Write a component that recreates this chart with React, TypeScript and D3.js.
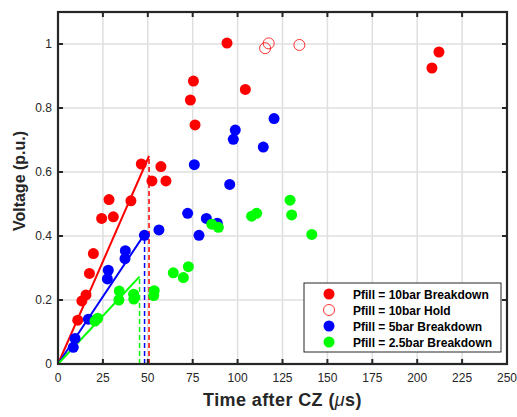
import React from "react";
import * as d3 from "d3";

// data (time in µs, voltage in p.u.)
const red10X = [11, 13.3, 15.6, 17.5, 19.7, 24.3, 28.4, 30.8, 40.6, 46.4, 52.3, 57.3, 60.1, 73.7, 75.4, 76.3, 94.1, 104.3, 208.2, 212.1];
const red10Y = [0.137, 0.197, 0.216, 0.283, 0.345, 0.455, 0.514, 0.46, 0.51, 0.625, 0.572, 0.617, 0.572, 0.825, 0.884, 0.747, 1.003, 0.858, 0.925, 0.975];

const hold10X = [115.3, 117.3, 134.4];
const hold10Y = [0.987, 1.002, 0.997];

const blue5X = [8.5, 9.5, 16.9, 27.5, 28, 37.3, 37.5, 48.1, 56.2, 72.2, 75.9, 78.5, 82.6, 88.7, 95.6, 97.6, 98.7, 114.3, 120.3];
const blue5Y = [0.052, 0.08, 0.14, 0.266, 0.293, 0.329, 0.354, 0.402, 0.419, 0.471, 0.623, 0.402, 0.455, 0.44, 0.561, 0.702, 0.731, 0.678, 0.767];

const green25X = [20.6, 22.1, 33.9, 34.1, 42.2, 42.1, 53.3, 53.6, 64.2, 69.8, 72.6, 85.6, 89.3, 107.8, 110.6, 129.2, 130.1, 141.3];
const green25Y = [0.134, 0.143, 0.2, 0.228, 0.203, 0.218, 0.214, 0.229, 0.285, 0.27, 0.304, 0.437, 0.427, 0.462, 0.471, 0.512, 0.466, 0.405];

// linear fits through origin: end point of each line
const fitNames = ["red", "blue", "green"];
const fitEndX = [50.7, 48.2, 45.4];
const fitEndY = [0.65, 0.406, 0.273];

const xTicks = [0, 25, 50, 75, 100, 125, 150, 175, 200, 225, 250];
const yTicks = [0, 0.2, 0.4, 0.6, 0.8, 1];
const legendLabels = [
  "Pfill = 10bar Breakdown",
  "Pfill = 10bar Hold",
  "Pfill = 5bar Breakdown",
  "Pfill = 2.5bar Breakdown",
];

const W = 517,
  H = 417;
const margin = { top: 12, right: 10, bottom: 53, left: 58 };
const colors: Record<string, string> = { red: "#ff0000", blue: "#0000ff", green: "#00ff00" };
const axisColor = "#262626";
const font = "'Liberation Sans', Arial, Helvetica, sans-serif";

const xScale = d3.scaleLinear().domain([0, 250]).range([margin.left, W - margin.right]);
const yScale = d3.scaleLinear().domain([0, 1.1]).range([H - margin.bottom, margin.top]);

const zip = (xs: number[], ys: number[]) => xs.map((x, i) => [x, ys[i]] as [number, number]);

export default function App() {
  const x0 = xScale(0),
    x1 = xScale(250),
    y0 = yScale(0),
    y1 = yScale(1.1);
  const r = 5.5;
  const line = d3
    .line<[number, number]>()
    .x((d) => xScale(d[0]))
    .y((d) => yScale(d[1]));

  const dots = (pts: [number, number][], fill: string, key: string) =>
    pts.map((d, i) => <circle key={key + i} cx={xScale(d[0])} cy={yScale(d[1])} r={r} fill={fill} />);

  return (
    <svg
      width={W}
      height={H}
      style={{ position: "absolute", left: 0, top: 0, background: "#fff" }}
      fontFamily={font}
    >
      {/* grid */}
      {xTicks.map((t) => (
        <line key={"gx" + t} x1={xScale(t)} x2={xScale(t)} y1={y0} y2={y1} stroke="#dfdfdf" strokeWidth={1.5} />
      ))}
      {yTicks.map((t) => (
        <line key={"gy" + t} x1={x0} x2={x1} y1={yScale(t)} y2={yScale(t)} stroke="#dfdfdf" strokeWidth={1.5} />
      ))}

      {/* fit lines and dashed markers */}
      {fitNames.map((n, i) => (
        <g key={"fit" + n}>
          <path d={line([[0, 0], [fitEndX[i], fitEndY[i]]]) || ""} stroke={colors[n]} strokeWidth={2} fill="none" />
          <line
            x1={xScale(fitEndX[i])}
            x2={xScale(fitEndX[i])}
            y1={yScale(0)}
            y2={yScale(fitEndY[i])}
            stroke={colors[n]}
            strokeWidth={1.5}
            strokeDasharray="5,3"
          />
        </g>
      ))}

      {/* points */}
      {dots(zip(red10X, red10Y), colors.red, "r")}
      {zip(hold10X, hold10Y).map((d, i) => (
        <circle key={"h" + i} cx={xScale(d[0])} cy={yScale(d[1])} r={r} fill="none" stroke={colors.red} strokeWidth={0.8} />
      ))}
      {dots(zip(blue5X, blue5Y), colors.blue, "b")}
      {dots(zip(green25X, green25Y), colors.green, "g")}

      {/* axes box */}
      <rect x={x0} y={y1} width={x1 - x0} height={y0 - y1} fill="none" stroke={axisColor} strokeWidth={2.2} />
      {xTicks.map((t) => (
        <g key={"tx" + t}>
          <line x1={xScale(t)} x2={xScale(t)} y1={y0} y2={y0 - 5} stroke={axisColor} strokeWidth={2} />
          <line x1={xScale(t)} x2={xScale(t)} y1={y1} y2={y1 + 5} stroke={axisColor} strokeWidth={2} />
          <text x={xScale(t)} y={y0 + 18} textAnchor="middle" fontSize={12} fill={axisColor}>
            {t}
          </text>
        </g>
      ))}
      {yTicks.map((t) => (
        <g key={"ty" + t}>
          <line x1={x0} x2={x0 + 5} y1={yScale(t)} y2={yScale(t)} stroke={axisColor} strokeWidth={2} />
          <line x1={x1} x2={x1 - 5} y1={yScale(t)} y2={yScale(t)} stroke={axisColor} strokeWidth={2} />
          <text x={x0 - 6} y={yScale(t) + 4} textAnchor="end" fontSize={12} fill={axisColor}>
            {t}
          </text>
        </g>
      ))}

      {/* axis labels */}
      <text
        x={(x0 + x1) / 2}
        y={y0 + 42}
        textAnchor="middle"
        fontSize={18}
        letterSpacing={0.4}
        fontWeight="bold"
        fill={axisColor}
      >
        Time after CZ (<tspan fontStyle="italic" fontWeight="normal">μ</tspan>s)
      </text>
      <text
        transform={`translate(25,181) rotate(-90)`}
        textAnchor="middle"
        fontSize={16}
        fontWeight="bold"
        fill={axisColor}
      >
        Voltage (p.u.)
      </text>

      {/* legend */}
      <g transform="translate(304,283)">
        <rect x={0} y={0} width={197} height={69} fill="#fff" stroke={axisColor} strokeWidth={1} />
        {legendLabels.map((lab, i) => {
          const cy = 11 + i * 16;
          const c = i === 3 ? colors.green : i === 2 ? colors.blue : colors.red;
          return (
            <g key={lab}>
              {i === 1 ? (
                <circle cx={25} cy={cy} r={r} fill="none" stroke={c} strokeWidth={0.8} />
              ) : (
                <circle cx={25} cy={cy} r={r} fill={c} />
              )}
              <text x={49} y={cy + 4.5} fontSize={12} fontWeight="bold" fill="#000">
                {lab}
              </text>
            </g>
          );
        })}
      </g>
    </svg>
  );
}
